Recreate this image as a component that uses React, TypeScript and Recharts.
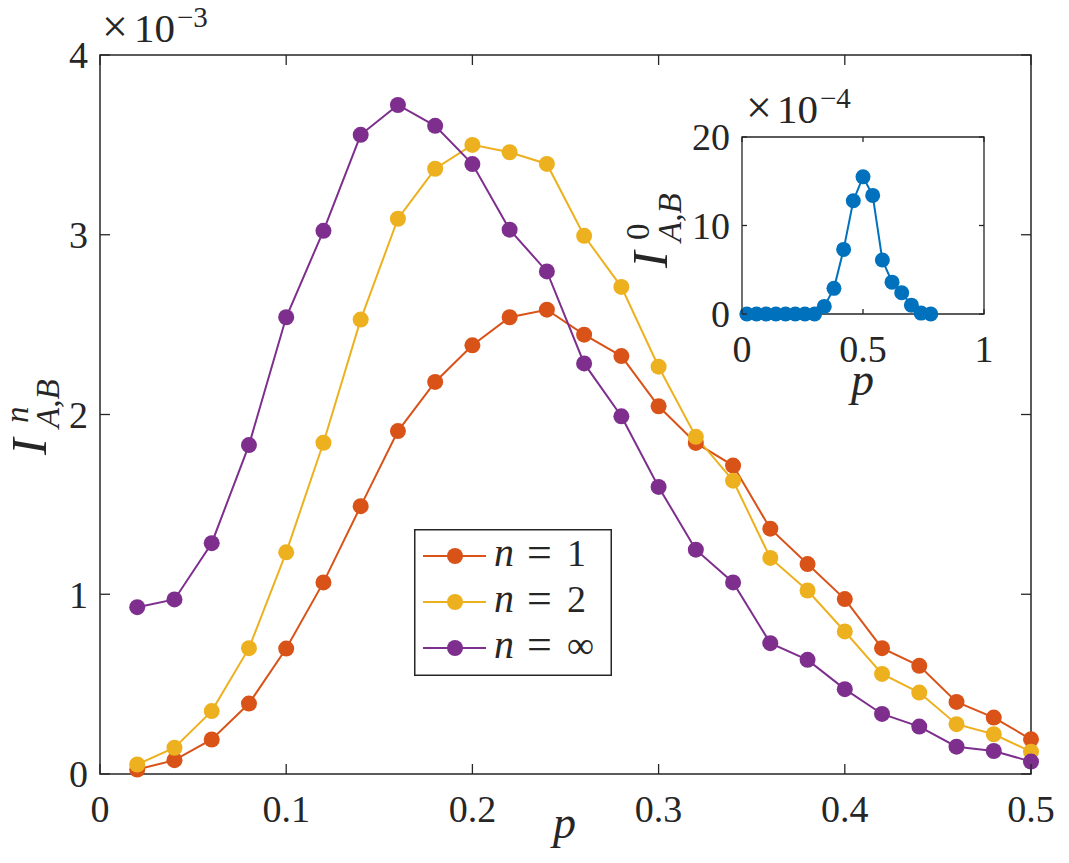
import React from 'react';
import { LineChart, Line, XAxis, YAxis, Legend, ReferenceArea } from 'recharts';

// ---------- main chart data (values in units of 1e-3) ----------
const P_MAIN = [0.02, 0.04, 0.06, 0.08, 0.1, 0.12, 0.14, 0.16, 0.18, 0.2, 0.22, 0.24, 0.26, 0.28, 0.3, 0.32, 0.34, 0.36, 0.38, 0.4, 0.42, 0.44, 0.46, 0.48, 0.5];
const I_N1 = [0.025, 0.077, 0.192, 0.392, 0.698, 1.066, 1.49, 1.908, 2.181, 2.385, 2.541, 2.583, 2.444, 2.325, 2.046, 1.842, 1.716, 1.365, 1.168, 0.973, 0.7, 0.602, 0.401, 0.314, 0.193];
const I_N2 = [0.053, 0.146, 0.35, 0.7, 1.233, 1.843, 2.528, 3.089, 3.367, 3.5, 3.459, 3.394, 2.994, 2.71, 2.266, 1.876, 1.632, 1.202, 1.021, 0.793, 0.557, 0.453, 0.277, 0.221, 0.124];
const I_NINF = [0.928, 0.971, 1.284, 1.83, 2.541, 3.022, 3.556, 3.722, 3.606, 3.393, 3.028, 2.796, 2.284, 1.99, 1.597, 1.248, 1.066, 0.728, 0.635, 0.472, 0.334, 0.264, 0.152, 0.128, 0.069];
const SERIES_NAMES = ['1', '2', '\u221E'];
const SERIES_COLORS = ['#D95319', '#EDB120', '#7E2F8E'];

const X_TICKS = [0, 0.1, 0.2, 0.3, 0.4, 0.5];
const X_TICK_LABELS = ['0', '0.1', '0.2', '0.3', '0.4', '0.5'];
const Y_TICKS = [0, 1, 2, 3, 4];
const Y_TICK_LABELS = ['0', '1', '2', '3', '4'];

// ---------- inset data (values in units of 1e-4) ----------
const P_INSET = [0.02, 0.06, 0.1, 0.14, 0.18, 0.22, 0.26, 0.3, 0.34, 0.38, 0.42, 0.46, 0.5, 0.54, 0.58, 0.62, 0.66, 0.7, 0.74, 0.78];
const I_0 = [0, 0, 0, 0, 0, 0, 0, 0, 0.86, 2.9, 7.3, 12.8, 15.5, 13.4, 6.1, 3.6, 2.4, 1.0, 0.1, 0];
const INSET_X_TICKS = [0, 0.5, 1];
const INSET_X_TICK_LABELS = ['0', '0.5', '1'];
const INSET_Y_TICKS = [0, 10, 20];
const INSET_Y_TICK_LABELS = ['0', '10', '20'];
const INSET_COLOR = '#0072BD';

const mainData = P_MAIN.map((p, i) => ({ p, n1: I_N1[i], n2: I_N2[i], ninf: I_NINF[i] }));
const insetData = P_INSET.map((p, i) => ({ p, v: I_0[i] }));

const FONT = '"Liberation Serif", "Times New Roman", serif';
const INK = '#262626';
const TICK_FS = 38;

// layout (plot area of main: x 100..1031, y 55..774)
const W = 1069;
const H = 863;
const M_MAIN = { top: 55, right: 38, bottom: 88, left: 99 };
const PW = 931;
const PH = 719;

// inset plot area: x 742..984, y 137..314
const IN_LEFT = 600;
const IN_TOP = 60;
const IN_W = 420;
const IN_H = 360;
const M_IN = { top: 77, right: 36, bottom: 105, left: 141 };
const IPW = 242;
const IPH = 177;

const X_MARGIN = 21;
const Y_MARGIN = 12;

function makeXTick(labels: string[], plotH: number, len: number) {
  return (props: any) => {
    const { x, y, index } = props;
    const axisY = y - X_MARGIN;
    return (
      <g>
        <line x1={x} x2={x} y1={axisY} y2={axisY - len} stroke={INK} strokeWidth={1.3} />
        <line x1={x} x2={x} y1={axisY - plotH} y2={axisY - plotH + len} stroke={INK} strokeWidth={1.3} />
        <text x={x} y={y} dy="0.71em" textAnchor="middle" fontFamily={FONT} fontSize={TICK_FS} fill={INK}>
          {labels[index]}
        </text>
      </g>
    );
  };
}

function makeYTick(labels: string[], plotW: number, len: number) {
  return (props: any) => {
    const { x, y, index } = props;
    const axisX = x + Y_MARGIN;
    return (
      <g>
        <line x1={axisX} x2={axisX + len} y1={y} y2={y} stroke={INK} strokeWidth={1.3} />
        <line x1={axisX + plotW} x2={axisX + plotW - len} y1={y} y2={y} stroke={INK} strokeWidth={1.3} />
        <text x={x} y={y} dy="0.35em" textAnchor="end" fontFamily={FONT} fontSize={TICK_FS} fill={INK}>
          {labels[index]}
        </text>
      </g>
    );
  };
}

const renderLegend = (props: any) => {
  const payload = props.payload || [];
  return (
    <svg width={198} height={147} style={{ display: 'block' }}>
      <rect x={0.75} y={0.75} width={196.5} height={145.5} fill="#ffffff" stroke={INK} strokeWidth={1.5} />
      {payload.map((e: any, i: number) => {
        const cy = 27 + i * 46;
        return (
          <g key={i}>
            <line x1={9} x2={72} y1={cy} y2={cy} stroke={e.color} strokeWidth={2} />
            <circle cx={41} cy={cy} r={8} fill={e.color} />
            <text x={80} y={cy + 10} fontFamily={FONT} fontStyle="italic" fontSize={40} fill={INK}>n</text>
            <text x={113} y={cy + 11} fontFamily={FONT} fontSize={44} fill={INK}>=</text>
            <text x={153} y={cy + 10} fontFamily={FONT} fontSize={38} fill={INK}>{e.value}</text>
          </g>
        );
      })}
    </svg>
  );
};

export default function App() {
  return (
    <div style={{ position: 'absolute', left: 0, top: 0, width: W, height: H, background: '#ffffff' }}>
      <LineChart width={W} height={H} data={mainData} margin={M_MAIN}>
        <XAxis
          dataKey="p"
          type="number"
          domain={[0, 0.5]}
          ticks={X_TICKS}
          interval={0}
          height={1}
          axisLine={false}
          tickLine={false}
          tickSize={0}
          tickMargin={X_MARGIN}
          tick={makeXTick(X_TICK_LABELS, PH, 10)}
        />
        <YAxis
          type="number"
          domain={[0, 4]}
          ticks={Y_TICKS}
          interval={0}
          width={1}
          axisLine={false}
          tickLine={false}
          tickSize={0}
          tickMargin={Y_MARGIN}
          tick={makeYTick(Y_TICK_LABELS, PW, 10)}
        />
        <ReferenceArea x1={0} x2={0.5} y1={0} y2={4} fill="none" fillOpacity={0} stroke={INK} strokeWidth={1.5} />
        <Line dataKey="n1" name={SERIES_NAMES[0]} stroke={SERIES_COLORS[0]} strokeWidth={2} isAnimationActive={false}
          dot={{ r: 8, fill: SERIES_COLORS[0], stroke: 'none' }} activeDot={false} />
        <Line dataKey="n2" name={SERIES_NAMES[1]} stroke={SERIES_COLORS[1]} strokeWidth={2} isAnimationActive={false}
          dot={{ r: 8, fill: SERIES_COLORS[1], stroke: 'none' }} activeDot={false} />
        <Line dataKey="ninf" name={SERIES_NAMES[2]} stroke={SERIES_COLORS[2]} strokeWidth={2} isAnimationActive={false}
          dot={{ r: 8, fill: SERIES_COLORS[2], stroke: 'none' }} activeDot={false} />
        <Legend
          layout="horizontal"
          verticalAlign="middle"
          align="center"
          content={renderLegend}
          wrapperStyle={{ position: 'absolute', left: 414, top: 529, width: 198, height: 147 }}
        />
        {/* exponent label */}
        <text fontFamily={FONT} fill={INK}>
          <tspan x={102} y={42} fontSize={46}>×</tspan>
          <tspan x={134} y={42} fontSize={41}>10</tspan>
          <tspan x={177} y={27} fontSize={29}>−3</tspan>
        </text>
        {/* y label */}
        <text transform="translate(46,455) rotate(-90)" fontFamily={FONT} fontStyle="italic" fontSize={50} fill={INK}>I</text>
        <text transform="translate(28,423) rotate(-90)" fontFamily={FONT} fontStyle="italic" fontSize={33} fill={INK}>n</text>
        <text transform="translate(59,428) rotate(-90)" fontFamily={FONT} fontStyle="italic" fontSize={33} fill={INK}>A,B</text>
        {/* x label */}
        <text x={553} y={838} fontFamily={FONT} fontStyle="italic" fontSize={46} fill={INK}>p</text>
      </LineChart>

      <div style={{ position: 'absolute', left: IN_LEFT, top: IN_TOP, width: IN_W, height: IN_H }}>
        <LineChart width={IN_W} height={IN_H} data={insetData} margin={M_IN}>
          <XAxis
            dataKey="p"
            type="number"
            domain={[0, 1]}
            ticks={INSET_X_TICKS}
            interval={0}
            height={1}
            axisLine={false}
            tickLine={false}
            tickSize={0}
            tickMargin={X_MARGIN}
            tick={makeXTick(INSET_X_TICK_LABELS, IPH, 5)}
          />
          <YAxis
            type="number"
            domain={[0, 20]}
            ticks={INSET_Y_TICKS}
            interval={0}
            width={1}
            axisLine={false}
            tickLine={false}
            tickSize={0}
            tickMargin={Y_MARGIN}
            tick={makeYTick(INSET_Y_TICK_LABELS, IPW, 5)}
          />
          <ReferenceArea x1={0} x2={1} y1={0} y2={20} fill="#ffffff" fillOpacity={0} stroke={INK} strokeWidth={1.3} />
          <Line dataKey="v" stroke={INSET_COLOR} strokeWidth={2} isAnimationActive={false}
            dot={{ r: 7.5, fill: INSET_COLOR, stroke: 'none' }} activeDot={false} />
          <text fontFamily={FONT} fill={INK}>
            <tspan x={746 - IN_LEFT} y={123 - IN_TOP} fontSize={46}>×</tspan>
            <tspan x={777 - IN_LEFT} y={123 - IN_TOP} fontSize={41}>10</tspan>
            <tspan x={820 - IN_LEFT} y={108 - IN_TOP} fontSize={29}>−4</tspan>
          </text>
          <text transform={`translate(${667 - IN_LEFT},${268 - IN_TOP}) rotate(-90)`} fontFamily={FONT} fontStyle="italic" fontSize={50} fill={INK}>I</text>
          <text transform={`translate(${649 - IN_LEFT},${240 - IN_TOP}) rotate(-90)`} fontFamily={FONT} fontSize={33} fill={INK}>0</text>
          <text transform={`translate(${681 - IN_LEFT},${242 - IN_TOP}) rotate(-90)`} fontFamily={FONT} fontStyle="italic" fontSize={33} fill={INK}>A,B</text>
          <text x={851 - IN_LEFT} y={395 - IN_TOP} fontFamily={FONT} fontStyle="italic" fontSize={46} fill={INK}>p</text>
        </LineChart>
      </div>
    </div>
  );
}
